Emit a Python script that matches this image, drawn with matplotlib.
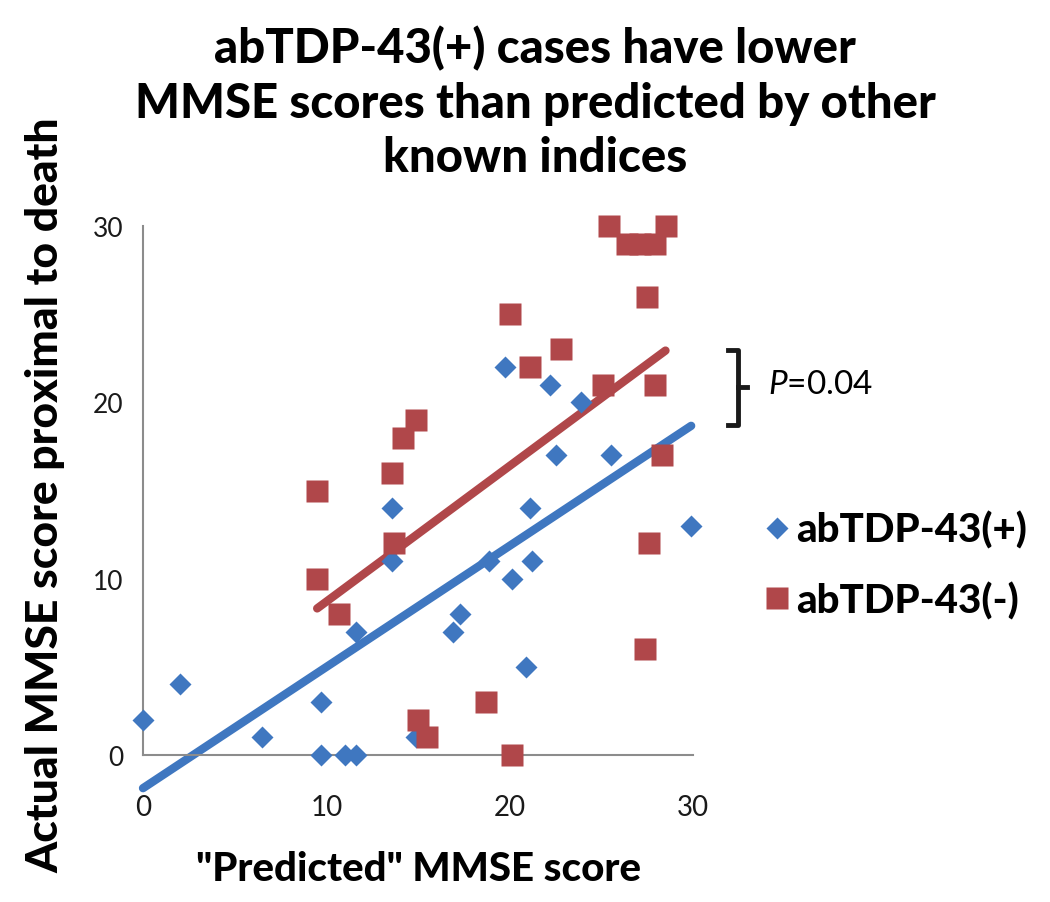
import numpy as np
import matplotlib
matplotlib.use("Agg")
import matplotlib.pyplot as plt
from matplotlib.lines import Line2D

plt.rcParams["font.family"] = ["Lato", "DejaVu Sans"]
plt.rcParams["mathtext.fontset"] = "custom"
plt.rcParams["mathtext.it"] = "Lato:italic"
plt.rcParams["mathtext.rm"] = "Lato"

# abTDP-43(+) cases
pos_pred = [0, 2, 6.5, 9.7, 9.7, 11.0, 11.6, 11.6, 13.6, 13.6, 14.9, 16.9,
            17.3, 18.9, 19.75, 20.1, 20.9, 21.1, 21.2, 22.2, 22.5, 23.9, 25.5, 29.9]
pos_actual = [2, 4, 1, 3, 0, 0, 0, 7, 14, 11, 1, 7,
              8, 11, 22, 10, 5, 14, 11, 21, 17, 20, 17, 13]

# abTDP-43(-) cases
neg_pred = [9.5, 9.5, 10.7, 13.6, 13.7, 14.2, 14.9, 15.0, 15.5, 18.7, 20.0, 20.1,
            21.1, 22.8, 25.1, 25.4, 26.4, 27.1, 27.9, 28.5, 27.5, 27.9, 28.3, 27.6, 27.4]
neg_actual = [15, 10, 8, 16, 12, 18, 19, 2, 1, 3, 25, 0,
              22, 23, 21, 30, 29, 29, 29, 30, 26, 21, 17, 12, 6]

labels = ["abTDP-43(+)", "abTDP-43(-)"]
p_text = "$P$=0.04"
blue = "#3f77c0"
red = "#b0474a"

fig = plt.figure(figsize=(10.5, 9.03), dpi=100)
ax = fig.add_axes([143/1050, 1-756/903, 550/1050, 529/903])

# linear trendlines over each group's range
for xs, ys, c in [(pos_pred, pos_actual, blue), (neg_pred, neg_actual, red)]:
    k, b = np.polyfit(xs, ys, 1)
    xx = np.array([min(xs), max(xs)])
    ax.plot(xx, k*xx + b, color=c, lw=6, solid_capstyle="round", clip_on=False, zorder=2)

ax.plot(pos_pred, pos_actual, ls="none", marker="D", ms=11.7, color=blue,
        mec="none", clip_on=False, zorder=3, label=labels[0])
ax.plot(neg_pred, neg_actual, ls="none", marker="s", ms=16.5, color=red,
        mec="none", clip_on=False, zorder=3, label=labels[1])

ax.set_xlim(0, 30)
ax.set_ylim(0, 30)
ax.set_xticks([0, 10, 20, 30])
ax.set_yticks([0, 10, 20, 30])
for s in ["top", "right"]:
    ax.spines[s].set_visible(False)
for s in ["left", "bottom"]:
    ax.spines[s].set_color("#8c8c8c")
    ax.spines[s].set_linewidth(1.5)
ax.tick_params(axis="both", length=0, colors="#1a1a1a")
ax.tick_params(axis="x", pad=28, labelsize=20)
ax.tick_params(axis="y", pad=14, labelsize=19)

ax.set_xlabel('"Predicted" MMSE score', fontsize=29, fontweight="black", labelpad=22)
fig.text(45/1050, 1-495/903, "Actual MMSE score proximal to death", rotation=90,
         fontsize=32, fontweight="black", ha="center", va="center")

fig.text(535/1050, 1-103/903,
         "abTDP-43(+) cases have lower\nMMSE scores than predicted by other\nknown indices",
         fontsize=34, fontweight="black", ha="center", va="center", linespacing=1.3)

leg = fig.legend(loc="center left", bbox_to_anchor=(760/1050, 1-566/903), frameon=False,
                 prop={"size": 29, "weight": "black"}, handletextpad=0.05,
                 labelspacing=0.8, handlelength=0.85, markerscale=0.95,
                 borderpad=0, borderaxespad=0)

# bracket and p value
bx = [728/1050, 738/1050, 738/1050, 728/1050]
by = [1-351/903, 1-351/903, 1-426/903, 1-426/903]
fig.add_artist(Line2D(bx, by, color="#1a1a1a", lw=3.5, solid_joinstyle="round"))
fig.add_artist(Line2D([738/1050, 747/1050], [1-388/903, 1-388/903], color="#1a1a1a", lw=3.5))
fig.text(768/1050, 1-385/903, p_text, fontsize=24, ha="left", va="center")

fig.savefig("out.png", dpi=100)
